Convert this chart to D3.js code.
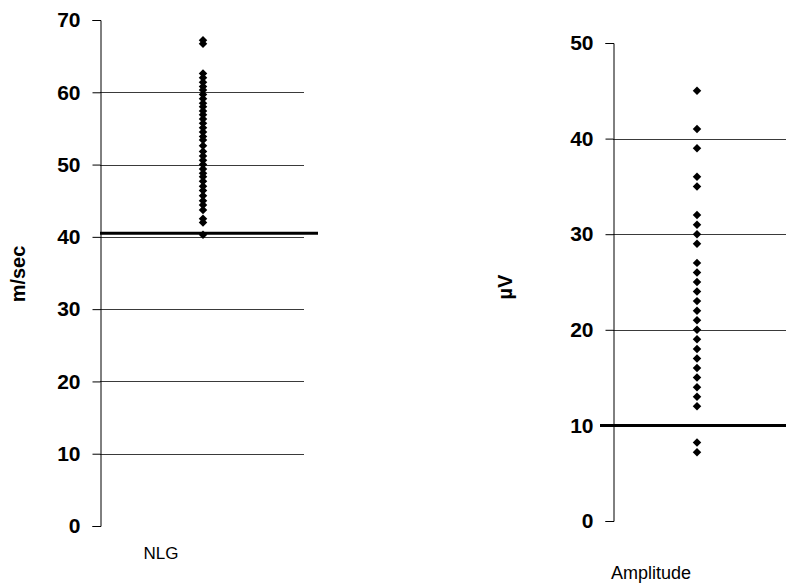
<!DOCTYPE html>
<html>
<head>
<meta charset="utf-8">
<script src="https://cdn.jsdelivr.net/npm/d3@7"></script>
<style>
  body { margin: 0; background: #fff; }
  svg { display: block; font-family: Arial, "Liberation Sans", sans-serif; }
</style>
</head>
<body>
<div id="chart"></div>
<script>
// nerve conduction velocity (m/sec), NLG column
var nlgValues = [67.2, 66.7, 62.6, 62.0, 61.4, 60.8, 60.3, 59.7, 59.1, 58.5, 58.0,
  57.4, 56.9, 56.3, 55.7, 55.1, 54.5, 53.9, 53.4, 52.6, 51.8, 51.2, 50.6, 50.0,
  49.4, 48.8, 48.3, 47.7, 47.0, 46.4, 45.7, 45.0, 44.4, 43.7, 42.5, 42.0, 40.3];
var nlgTicks = [0, 10, 20, 30, 40, 50, 60, 70];
var nlgGrid = [10, 20, 30, 40, 50, 60];
var nlgCutoff = 40.5;

// amplitude (µV)
var ampValues = [45, 41, 39, 36, 35, 32, 31, 30, 29, 27, 26, 25, 24, 23, 22, 21,
  20, 19, 18, 17, 16, 15, 14, 13, 12, 8.2, 7.2];
var ampTicks = [0, 10, 20, 30, 40, 50];
var ampGrid = [10, 20, 30, 40];
var ampCutoff = 10;

var W = 786, H = 585;

var svg = d3.select("#chart").append("svg")
    .attr("width", W)
    .attr("height", H);

var diamond = d3.symbol().type(d3.symbolSquare).size(36);

function panel(opt) {
    var y = d3.scaleLinear().domain(opt.domain).range([opt.bottom, opt.top]);
    var g = svg.append("g");

    // gridlines
    g.selectAll("line.grid")
	.data(opt.grid)
	.enter().append("line")
	.attr("class", "grid")
	.attr("x1", opt.axisX).attr("x2", opt.gridEnd)
	.attr("y1", function(d) { return Math.round(y(d)) + 0.5; })
	.attr("y2", function(d) { return Math.round(y(d)) + 0.5; })
	.attr("stroke", "#3a3a3a")
	.attr("stroke-width", 1);

    // axis
    var axis = d3.axisLeft(y)
	.tickValues(opt.ticks)
	.tickSize(8)
	.tickSizeOuter(8)
	.tickPadding(12);
    var ga = g.append("g")
	.attr("transform", "translate(" + (opt.axisX + 0.5) + ",0)")
	.call(axis);
    ga.select(".domain").attr("stroke", "#000");
    ga.selectAll(".tick line").attr("stroke", "#000");
    ga.selectAll(".tick text")
	.attr("fill", "#000")
	.style("font-size", "21px")
	.style("font-weight", "bold")
	.style("font-family", "Arial, 'Liberation Sans', sans-serif");

    // cutoff line
    g.append("line")
	.attr("x1", opt.cutStart).attr("x2", opt.cutEnd)
	.attr("y1", y(opt.cutoff)).attr("y2", y(opt.cutoff))
	.attr("stroke", "#000")
	.attr("stroke-width", 3);

    // points
    g.selectAll("path.pt")
	.data(opt.values)
	.enter().append("path")
	.attr("class", "pt")
	.attr("d", diamond)
	.attr("transform", function(d) {
	    return "translate(" + opt.pointX + "," + y(d) + ") rotate(45)";
	})
	.attr("fill", "#000");

    // y title
    g.append("text")
	.attr("transform", "translate(" + opt.titleX + "," + opt.titleY + ") rotate(-90)")
	.attr("text-anchor", "middle")
	.style("font-size", "20px")
	.style("font-weight", "bold")
	.text(opt.title);

    // x label
    g.append("text")
	.attr("x", opt.labelX)
	.attr("y", opt.labelY)
	.attr("text-anchor", "middle")
	.style("font-size", opt.labelSize)
	.text(opt.label);
}

panel({
    domain: [0, 70], top: 20, bottom: 526,
    ticks: nlgTicks, grid: nlgGrid, values: nlgValues,
    axisX: 100, gridEnd: 304,
    cutoff: nlgCutoff, cutStart: 100, cutEnd: 318,
    pointX: 203,
    title: "m/sec", titleX: 25, titleY: 274,
    label: "NLG", labelX: 161, labelY: 559, labelSize: "17px"
});

panel({
    domain: [0, 50], top: 43, bottom: 521,
    ticks: ampTicks, grid: ampGrid, values: ampValues,
    axisX: 613, gridEnd: 786,
    cutoff: ampCutoff, cutStart: 600, cutEnd: 786,
    pointX: 697,
    title: "µV", titleX: 512, titleY: 287,
    label: "Amplitude", labelX: 651, labelY: 579, labelSize: "18px"
});
</script>
</body>
</html>
